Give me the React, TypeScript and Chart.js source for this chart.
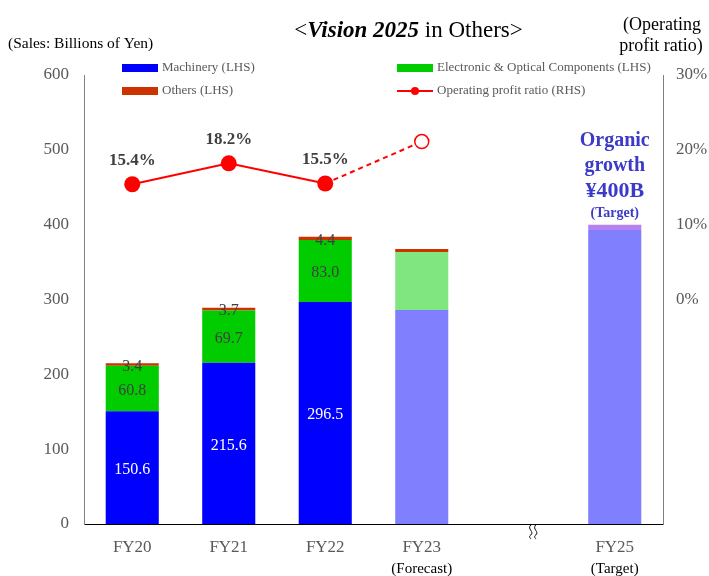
import React, { useEffect, useRef } from "react";
import { Chart, registerables } from "chart.js";

Chart.register(...registerables);

const categories = ["FY20", "FY21", "FY22", "FY23", "", "FY25"];
const subLabels = ["", "", "", "(Forecast)", "", "(Target)"];
const machinery = [150.6, 215.6, 296.5, 286, null, 393];
const electronic = [60.8, 69.7, 83.0, 77.5, null, null];
const others = [3.4, 3.7, 4.4, 4.0, null, 7];
const opRatio = [15.4, 18.2, 15.5, 21.1, null, null];
const showBarLabels = [true, true, true, false, false, false];
const showRatioLabels = [true, true, true, false, false, false];
const leftTicks = [0, 100, 200, 300, 400, 500, 600];
const rightTicks = [0, 10, 20, 30];

const machineryColors = ["#0000FF", "#0000FF", "#0000FF", "#8080FF", "#8080FF", "#8080FF"];
const electronicColors = ["#00CC00", "#00CC00", "#00CC00", "#80E680", "#80E680", "#80E680"];
const othersColors = ["#CC3300", "#CC3300", "#CC3300", "#CC3300", "#CC3300", "#B383F0"];

const SERIF = '"Liberation Serif", "Times New Roman", serif';

const overlayPlugin = {
  id: "overlay",
  afterDatasetsDraw(chart: any) {
    const ctx = chart.ctx;
    ctx.save();
    ctx.textAlign = "center";
    ctx.textBaseline = "middle";
    const segs = [
      { idx: 0, color: "#FFFFFF", vals: machinery },
      { idx: 1, color: "#404040", vals: electronic },
      { idx: 2, color: "#404040", vals: others },
    ];
    ctx.font = `16px ${SERIF}`;
    segs.forEach((s) => {
      const meta = chart.getDatasetMeta(s.idx);
      meta.data.forEach((el: any, i: number) => {
        if (!showBarLabels[i] || s.vals[i] == null) return;
        const y = (el.y + el.base) / 2;
        ctx.fillStyle = s.color;
        ctx.fillText((s.vals[i] as number).toFixed(1), el.x, y + 2);
      });
    });
    const lm = chart.getDatasetMeta(3);
    ctx.font = `bold 17px ${SERIF}`;
    ctx.fillStyle = "#404040";
    lm.data.forEach((el: any, i: number) => {
      if (!showRatioLabels[i] || opRatio[i] == null) return;
      ctx.fillText((opRatio[i] as number).toFixed(1) + "%", el.x, el.y - 24);
    });
    ctx.restore();
  },
  afterDraw(chart: any) {
    const ctx = chart.ctx;
    const xs = chart.scales.x;
    const area = chart.chartArea;
    ctx.save();
    // title
    ctx.textBaseline = "middle";
    ctx.fillStyle = "#000";
    const p1 = "<";
    const p2 = "Vision 2025";
    const p3 = " in Others>";
    const tf = 23;
    ctx.font = `${tf}px ${SERIF}`;
    const w1 = ctx.measureText(p1).width;
    const w3 = ctx.measureText(p3).width;
    ctx.font = `italic bold ${tf}px ${SERIF}`;
    const w2 = ctx.measureText(p2).width;
    let tx = 408.5 - (w1 + w2 + w3) / 2;
    ctx.textAlign = "left";
    ctx.font = `${tf}px ${SERIF}`;
    ctx.fillText(p1, tx, 31);
    tx += w1;
    ctx.font = `italic bold ${tf}px ${SERIF}`;
    ctx.fillText(p2, tx, 31);
    tx += w2;
    ctx.font = `${tf}px ${SERIF}`;
    ctx.fillText(p3, tx, 31);

    // axis titles
    ctx.font = `15.5px ${SERIF}`;
    ctx.textAlign = "left";
    ctx.fillText("(Sales: Billions of Yen)", 8, 44);
    ctx.font = `18px ${SERIF}`;
    ctx.textAlign = "center";
    ctx.fillText("(Operating", 662, 25);
    ctx.fillText("profit ratio)", 661, 46);

    // legend
    ctx.font = `13px ${SERIF}`;
    ctx.textAlign = "left";
    const legendRect = (x: number, y: number, c: string, label: string) => {
      ctx.fillStyle = c;
      ctx.fillRect(x, y - 4, 36, 8);
      ctx.fillStyle = "#595959";
      ctx.fillText(label, x + 40, y);
    };
    legendRect(122, 68, "#0000FF", "Machinery (LHS)");
    legendRect(397, 68, "#00CC00", "Electronic & Optical Components (LHS)");
    legendRect(122, 91, "#CC3300", "Others (LHS)");
    ctx.strokeStyle = "#FF0000";
    ctx.lineWidth = 2;
    ctx.beginPath();
    ctx.moveTo(397, 91);
    ctx.lineTo(433, 91);
    ctx.stroke();
    ctx.fillStyle = "#FF0000";
    ctx.beginPath();
    ctx.arc(415, 91, 4, 0, Math.PI * 2);
    ctx.fill();
    ctx.fillStyle = "#595959";
    ctx.fillText("Operating profit ratio (RHS)", 437, 91);

    // sub labels
    ctx.font = `15px ${SERIF}`;
    ctx.fillStyle = "#000";
    ctx.textAlign = "center";
    subLabels.forEach((s, i) => {
      if (!s) return;
      ctx.fillText(s, xs.getPixelForValue(i), 569);
    });

    // annotation
    const ax = xs.getPixelForValue(5);
    ctx.fillStyle = "#3B3BC8";
    ctx.font = `bold 20px ${SERIF}`;
    ctx.fillText("Organic", ax, 141);
    ctx.fillText("growth", ax, 166);
    ctx.font = `bold 22px ${SERIF}`;
    ctx.fillText("\u00A5400B", ax, 191);
    ctx.font = `bold 14px ${SERIF}`;
    ctx.fillText("(Target)", ax, 213);

    // axis break
    const bx = xs.getPixelForValue(4) + 15;
    const by = area.bottom;
    ctx.strokeStyle = "#000";
    ctx.lineWidth = 1;
    [-2.5, 2.5].forEach((dx) => {
      ctx.beginPath();
      ctx.moveTo(bx + dx, by + 1);
      ctx.bezierCurveTo(bx + dx - 4, by + 5, bx + dx + 4, by + 8, bx + dx, by + 11);
      ctx.bezierCurveTo(bx + dx - 3, by + 13, bx + dx + 1, by + 15, bx + dx, by + 15);
      ctx.stroke();
    });
    ctx.restore();
  },
};

export default function App() {
  const ref = useRef<HTMLCanvasElement | null>(null);
  useEffect(() => {
    if (!ref.current) return;
    const chart = new Chart(ref.current, {
      type: "bar",
      data: {
        labels: categories,
        datasets: [
          {
            type: "bar",
            label: "Machinery (LHS)",
            data: machinery as any,
            backgroundColor: machineryColors,
            stack: "s",
            yAxisID: "y",
            order: 1,
            barPercentage: 0.55,
            categoryPercentage: 1,
          },
          {
            type: "bar",
            label: "Electronic & Optical Components (LHS)",
            data: electronic as any,
            backgroundColor: electronicColors,
            stack: "s",
            yAxisID: "y",
            order: 1,
            barPercentage: 0.55,
            categoryPercentage: 1,
          },
          {
            type: "bar",
            label: "Others (LHS)",
            data: others as any,
            backgroundColor: othersColors,
            stack: "s",
            yAxisID: "y",
            order: 1,
            barPercentage: 0.55,
            categoryPercentage: 1,
          },
          {
            type: "line",
            label: "Operating profit ratio (RHS)",
            data: opRatio as any,
            yAxisID: "y1",
            order: 0,
            borderColor: "#FF0000",
            borderWidth: 2,
            pointRadius: [8, 8, 8, 7, 0, 0],
            pointBackgroundColor: ["#FF0000", "#FF0000", "#FF0000", "#FFFFFF", "#FFFFFF", "#FFFFFF"],
            pointBorderColor: "#FF0000",
            pointBorderWidth: [0, 0, 0, 1.5, 0, 0],
            segment: {
              borderDash: (c: any) => (c.p1DataIndex === 3 ? [5, 4] : undefined),
            },
          } as any,
        ],
      },
      options: {
        animation: false,
        responsive: false,
        layout: { padding: { top: 75, left: 0, right: 0, bottom: 0 } },
        plugins: { legend: { display: false }, tooltip: { enabled: false }, title: { display: false } },
        scales: {
          x: {
            stacked: true,
            grid: { display: false, drawTicks: false },
            border: { display: true, color: "#000000", width: 1 },
            ticks: {
              color: "#595959",
              font: { family: SERIF, size: 17 },
              padding: 13,
              maxRotation: 0,
              autoSkip: false,
            },
            afterFit: (s: any) => {
              s.height = 52;
            },
          },
          y: {
            stacked: true,
            position: "left",
            min: 0,
            max: 600,
            grid: { display: false, drawTicks: false },
            border: { display: true, color: "#7F7F7F", width: 1 },
            afterBuildTicks: (s: any) => {
              s.ticks = leftTicks.map((v) => ({ value: v }));
            },
            ticks: {
              color: "#595959",
              font: { family: SERIF, size: 17 },
              padding: 15,
            },
            afterFit: (s: any) => {
              s.width = 84;
            },
          },
          y1: {
            position: "right",
            min: -30,
            max: 30,
            grid: { display: false, drawTicks: false },
            border: { display: true, color: "#7F7F7F", width: 1 },
            afterBuildTicks: (s: any) => {
              s.ticks = rightTicks.map((v) => ({ value: v }));
            },
            ticks: {
              color: "#595959",
              font: { family: SERIF, size: 17 },
              padding: 13,
              callback: (v: any) => v + "%",
            },
            afterFit: (s: any) => {
              s.width = 46;
            },
          },
        },
      },
      plugins: [overlayPlugin],
    });
    return () => chart.destroy();
  }, []);
  return (
    <div style={{ position: "absolute", left: 0, top: 0, width: 709, height: 576, background: "#fff" }}>
      <canvas ref={ref} width={709} height={576} style={{ width: 709, height: 576 }} />
    </div>
  );
}
